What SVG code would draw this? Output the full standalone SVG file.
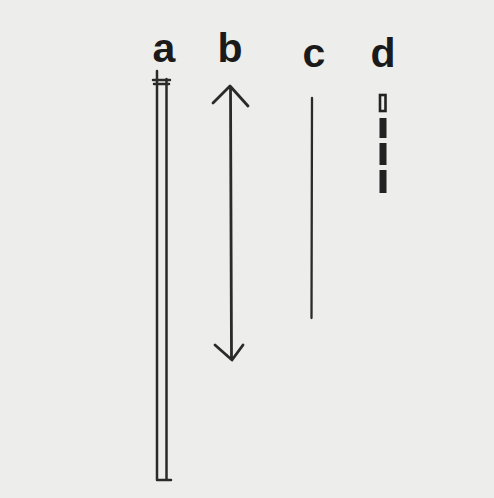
<svg xmlns="http://www.w3.org/2000/svg" width="494" height="498" viewBox="0 0 494 498">
  <style>
    .lbl { font-family: "Liberation Sans", Arial, sans-serif; font-weight: bold; font-size: 41px; fill: #1a1a1a; text-anchor: middle; }
    .ink { stroke: #2a2a2a; fill: none; stroke-linecap: round; stroke-linejoin: round; }
    .seg { fill: #222222; }
  </style>
  <rect width="494" height="498" fill="#ededeb"/>

  <!-- column a: long double-walled bar -->
  <g id="a">
    <text class="lbl" x="164" y="62">a</text>
    <path class="ink" stroke-width="2.5" d="M157,71 V480 M166.5,79 V480 M153,80 H170 M154,84 H169 M157,480 H171"/>
  </g>

  <!-- column b: double-headed arrow -->
  <g id="b">
    <text class="lbl" x="230" y="62">b</text>
    <path class="ink" stroke-width="2.8" d="M230.5,87 L231.5,358 M213,103 L230,86 L248,106 M215,345 L232,360 L243,345"/>
  </g>

  <!-- column c: single thin line -->
  <g id="c">
    <text class="lbl" x="314" y="67">c</text>
    <path class="ink" stroke-width="2.3" d="M312,98 L311.5,318"/>
  </g>

  <!-- column d: short dashes -->
  <g id="d">
    <text class="lbl" x="383" y="67">d</text>
    <rect x="380" y="95" width="5.5" height="16" fill="none" stroke="#222222" stroke-width="2.6"/>
    <rect class="seg" x="379.5" y="118" width="7" height="20"/>
    <rect class="seg" x="379.5" y="143" width="7" height="22"/>
    <rect class="seg" x="379.5" y="170" width="7" height="23"/>
  </g>
</svg>
